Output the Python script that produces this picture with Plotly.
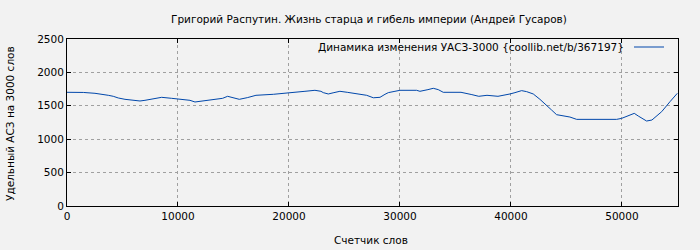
import plotly.graph_objects as go

words = [0, 1470, 2520, 3270, 3720, 4170, 4620, 5225, 5975, 6575, 7025, 7540, 8080, 8530,
         9430, 10330, 11080, 11530, 12220, 12820, 13330, 14020, 14470, 15045, 15525, 16245,
         17025, 18590, 19850, 20630, 21440, 22340, 22880, 23090, 23540, 24050, 24590, 25250,
         25855, 26400, 27000, 27600, 28200, 28650, 28950, 29550, 30000, 31500, 31800, 32520,
         33000, 33450, 33900, 35500, 36000, 36480, 37100, 37840, 38830, 39460, 39910, 40360,
         40960, 41410, 42010, 42610, 43210, 43660, 44110, 44710, 45310, 45920, 49520, 49970,
         50570, 51110, 51470, 51920, 52220, 52700, 53580, 54330, 54990]
asz = [1702, 1700, 1687, 1672, 1657, 1642, 1617, 1597, 1582, 1572, 1582, 1597, 1612, 1627,
       1612, 1597, 1582, 1557, 1572, 1582, 1597, 1612, 1642, 1617, 1597, 1622, 1657,
       1672, 1687, 1702, 1717, 1732, 1717, 1697, 1677, 1697, 1717, 1702,
       1687, 1672, 1657, 1620, 1627, 1672, 1697, 1717, 1732, 1732, 1717, 1742,
       1762, 1742, 1702, 1702, 1687, 1667, 1642, 1657, 1642, 1657, 1677, 1697,
       1727, 1712, 1677, 1597, 1512, 1437, 1367, 1352, 1332, 1297, 1297, 1312,
       1347, 1387, 1347, 1297, 1272, 1287, 1412, 1562, 1687]

title = "Григорий Распутин. Жизнь старца и гибель империи (Андрей Гусаров)"
legend_text = "Динамика изменения УАСЗ-3000 {coollib.net/b/367197}"
x_title = "Счетчик слов"
y_title = "Удельный АСЗ на 3000 слов"
x_ticks = [0, 10000, 20000, 30000, 40000, 50000]
y_ticks = [0, 500, 1000, 1500, 2000, 2500]

FONT = "DejaVu Sans"
FS = 10.5
LINE = "#0047ab"

fig = go.Figure()
fig.add_trace(go.Scatter(x=words, y=asz, mode="lines",
                         line=dict(color=LINE, width=1), showlegend=False,
                         hoverinfo="skip"))

W, H = 700, 250
L, R, T, B = 67, 22, 39, 44
pw, ph = W - L - R, H - T - B

def px(x):
    return (x - L) / pw

def py(y):
    return (H - B - y) / ph

axis_common = dict(showline=True, linecolor="black", linewidth=1, mirror="ticks",
                   ticks="inside", ticklen=4, tickcolor="black",
                   showgrid=True, gridcolor="#a0a0a0", griddash="dot", gridwidth=1,
                   zeroline=False, tickfont=dict(family=FONT, size=FS, color="black"))

fig.update_xaxes(range=[0, 55050], tickvals=x_ticks, ticktext=[str(v) for v in x_ticks],
                 **axis_common)
fig.update_yaxes(range=[0, 2500], tickvals=y_ticks, ticktext=[str(v) for v in y_ticks],
                 **axis_common)

fig.add_annotation(text=title, xref="paper", yref="paper", x=px(369), y=py(19),
                   showarrow=False, xanchor="center", yanchor="middle",
                   font=dict(family=FONT, size=FS, color="black"))
fig.add_annotation(text=legend_text, xref="paper", yref="paper", x=px(626), y=py(47),
                   showarrow=False, xanchor="right", yanchor="middle",
                   font=dict(family=FONT, size=FS, color="black"))
fig.add_shape(type="line", xref="paper", yref="paper", x0=px(634), x1=px(664),
              y0=py(47), y1=py(47), line=dict(color=LINE, width=1))
fig.add_annotation(text=x_title, xref="paper", yref="paper", x=px(371), y=py(240),
                   showarrow=False, xanchor="center", yanchor="middle",
                   font=dict(family=FONT, size=FS, color="black"))
fig.add_annotation(text=y_title, xref="paper", yref="paper", x=px(10), y=py(124),
                   showarrow=False, xanchor="center", yanchor="middle", textangle=-90,
                   font=dict(family=FONT, size=FS, color="black"))

fig.update_layout(width=W, height=H, margin=dict(l=L, r=R, t=T, b=B, pad=0),
                  paper_bgcolor="#f2f2f2", plot_bgcolor="#f2f2f2",
                  font=dict(family=FONT, size=FS, color="black"))

fig.write_html("out.html")
